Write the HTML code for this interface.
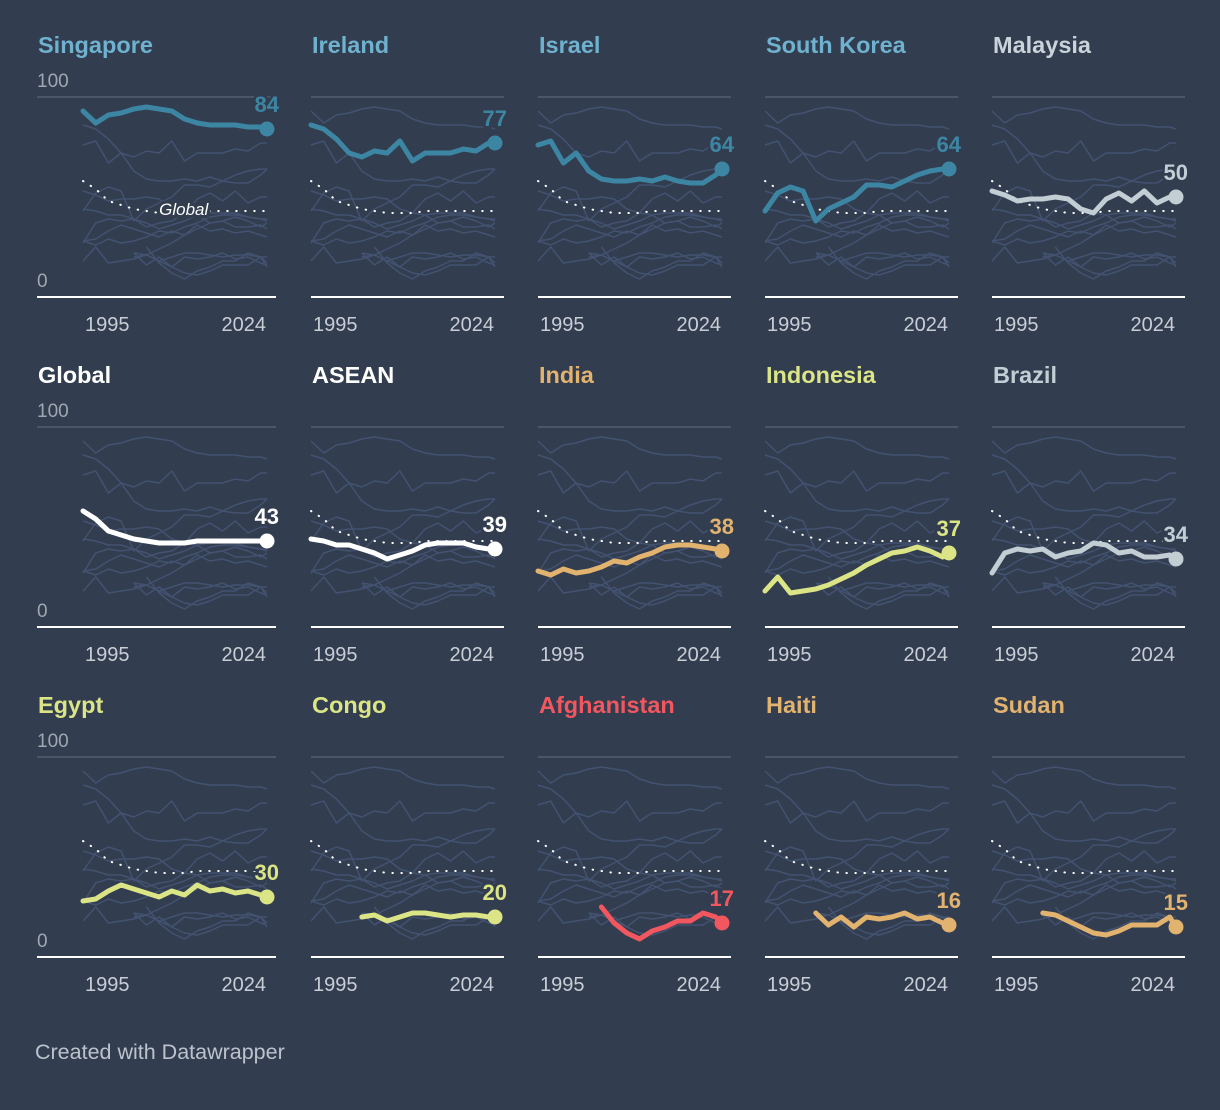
<!DOCTYPE html>
<html><head><meta charset="utf-8">
<style>
html,body{margin:0;padding:0;background:#323d4f;}
svg{display:block;font-family:"Liberation Sans",sans-serif;}
</style></head>
<body>
<svg id="chart" width="1220" height="1110" viewBox="0 0 1220 1110">
<rect x="0" y="0" width="1220" height="1110" fill="#323d4f"/>
<text x="35" y="1059" font-size="21.5" fill="#bcc3cc">Created with Datawrapper</text>
</svg>
<script>
const years = [1995,1997,1999,2001,2003,2005,2007,2009,2011,2013,2015,2017,2019,2021,2023,2024];
const countries = ["Singapore","Ireland","Israel","South Korea","Malaysia","Global","ASEAN","India","Indonesia","Brazil","Egypt","Congo","Afghanistan","Haiti","Sudan"];
const singapore = [93,87,91,92,94,95,94,93,89,87,86,86,86,85,85,84];
const ireland = [86,84,79,72,70,73,72,78,68,72,72,72,74,73,77,77];
const israel = [76,78,67,72,63,59,58,58,59,58,60,58,57,57,61,64];
const southKorea = [43,52,55,53,38,44,47,50,56,56,55,58,61,63,64,64];
const malaysia = [53,51,48,49,49,50,49,44,42,49,52,48,53,47,50,50];
const global = [58,54,48,46,44,43,42,42,42,43,43,43,43,43,43,43];
const asean = [44,43,41,41,39,37,34,36,38,41,42,42,42,40,39,39];
const india = [28,26,29,27,28,30,33,32,35,37,40,41,41,40,39,38];
const indonesia = [18,25,17,18,19,21,24,27,31,34,37,38,40,38,35,37];
const brazil = [27,37,39,38,39,35,37,38,42,41,37,38,35,35,36,34];
const egypt = [28,29,33,36,34,32,30,33,31,36,33,34,32,33,31,30];
const congo = [null,null,null,null,20,21,18,20,22,22,21,20,21,21,20,20];
const afghanistan = [null,null,null,null,null,25,17,12,9,13,15,18,18,22,20,17];
const haiti = [null,null,null,null,22,16,20,15,20,19,20,22,19,20,17,16];
const sudan = [null,null,null,null,22,21,18,15,12,11,13,16,16,16,20,15];
const seriesValues = [singapore,ireland,israel,southKorea,malaysia,global,asean,india,indonesia,brazil,egypt,congo,afghanistan,haiti,sudan];
const lineColors = ["#3d86a3","#3d86a3","#3d86a3","#3d86a3","#c2ced4","#ffffff","#ffffff","#e2b26f","#dbe586","#c2ced4","#dbe586","#dbe586","#f2575f","#e2b26f","#e2b26f"];
const titleColors = ["#6fb2d0","#6fb2d0","#6fb2d0","#6fb2d0","#c9d3d9","#ffffff","#ffffff","#e2b26f","#dbe586","#c2ced4","#dbe586","#dbe586","#f2575f","#e2b26f","#e2b26f"];
const xTicks = [1995,2024];
const yTicks = [0,100];

const NS="http://www.w3.org/2000/svg";
const svg=document.getElementById('chart');
const dataLefts=[83,311,538,765,992];
const rowTops=[97,427,757];
const PW=184, PH=200;
function mk(tag,attrs,parent){const e=document.createElementNS(NS,tag);for(const k in attrs)e.setAttribute(k,attrs[k]);(parent||svg).appendChild(e);return e;}
function xScale(left,yr){return left+(yr-1995)/(2024-1995)*PW;}
function yScale(top,v){return top+PH-v/100*PH;}
function pathFor(vals,left,top){let d="",pen=false;vals.forEach((v,i)=>{if(v==null){pen=false;return;}d+=(pen?"L":"M")+xScale(left,years[i]).toFixed(1)+","+yScale(top,v).toFixed(1);pen=true;});return d;}

countries.forEach((name,idx)=>{
  const col=idx%5,row=Math.floor(idx/5);
  const left=dataLefts[col],top=rowTops[row];
  const gridLeft=col===0?37:left;
  const gridRight=left+193;
  const g=mk('g',{});
  
  
  const t=mk('text',{x:gridLeft+1,y:top-44,'font-size':23.5,'font-weight':'bold',fill:titleColors[idx]},g);
  t.textContent=name;
  
  
  const gl=mk('line',{x1:gridLeft,x2:gridRight,y1:top,y2:top,stroke:'#4b5668','stroke-width':2},g);
  
  
  if(col===0){
    yTicks.forEach(v=>{
      const yl=mk('text',{x:37,y:yScale(top,v)-10,'font-size':19,fill:'#a0a7b1'},g);
      yl.textContent=v;
      
      
    });
  }
  seriesValues.forEach((vals,j)=>{
    if(j===5)return;
    const p=mk('path',{d:pathFor(vals,left,top),fill:'none',stroke:'#435270','stroke-width':1.5,'stroke-linejoin':'round'},g);
    
    
  });
  if(idx!==5){
    const gp=mk('path',{d:pathFor(global,left,top),fill:'none',stroke:'#ffffff','stroke-width':2,'stroke-dasharray':'0.5 8.5','stroke-linecap':'round'},g);
    
    
  }
  if(idx===0){
    const gx=xScale(left,2007),gy=yScale(top,43)+4;
    const lb=mk('text',{x:gx,y:gy,'font-size':17,'font-style':'italic',fill:'#fff',stroke:'#323d4f','stroke-width':6,'paint-order':'stroke'},g);
    lb.textContent='Global';
    
    
  }
  const vals=seriesValues[idx];
  const hl=mk('path',{d:pathFor(vals,left,top),fill:'none',stroke:lineColors[idx],'stroke-width':5,'stroke-linejoin':'round','stroke-linecap':'round'},g);
  
  
  const last=vals[vals.length-1];
  const ex=xScale(left,years[years.length-1]),ey=yScale(top,last);
  const dot=mk('circle',{cx:ex,cy:ey,r:7.5,fill:lineColors[idx]},g);
  
  
  const vl=mk('text',{x:ex+12,y:ey-17,'font-size':22,'font-weight':'bold','text-anchor':'end',fill:lineColors[idx],stroke:'#323d4f','stroke-width':5,'paint-order':'stroke'},g);
  vl.textContent=last;
  
  
  const bl=mk('line',{x1:gridLeft,x2:gridRight,y1:top+PH,y2:top+PH,stroke:'#ffffff','stroke-width':2},g);
  
  
  xTicks.forEach((yr,k)=>{
    const tx=mk('text',{x:k===0?left+2:left+183,y:top+PH+34,'font-size':20,fill:'#c9ced6','text-anchor':k===0?'start':'end'},g);
    tx.textContent=yr;
    
    
  });
});
</script>
</body></html>
